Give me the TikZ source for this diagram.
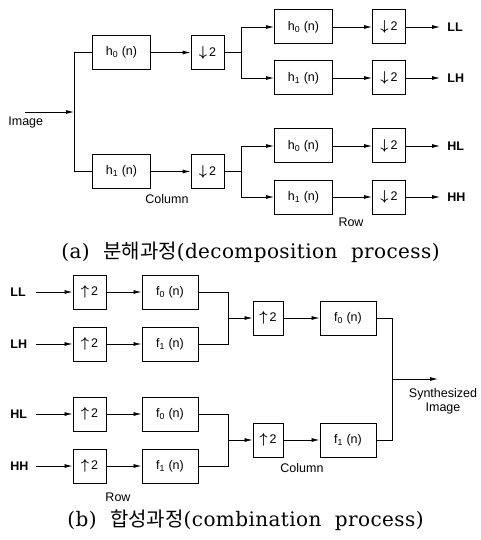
\documentclass[tikz,border=0pt]{standalone}
\usepackage{fontspec}
\setmainfont{Liberation Serif}
\setsansfont{Liberation Sans}
\newfontfamily\krfont{Noto Sans CJK KR}
\newfontfamily\captfont[LetterSpace=2]{DejaVu Serif}
\usetikzlibrary{arrows.meta}

\tikzset{
  filt/.style={draw,line width=1pt,minimum width=58pt,minimum height=34pt,inner sep=0pt},
  rate/.style={draw,line width=1pt,minimum width=33pt,minimum height=34pt,inner sep=0pt},
  band/.style={font=\sffamily\bfseries\fontsize{12.5}{14}\selectfont,text width=22pt,align=left},
  capt/.style={font=\captfont\fontsize{20}{22}\selectfont}
}
\newcommand{\dn}{{\fontsize{15}{15}\selectfont\boldmath$\downarrow$}\,2}
\newcommand{\up}{{\fontsize{15}{15}\selectfont\boldmath$\uparrow$}\,2}

\begin{document}
\begin{tikzpicture}[x=1pt,y=-1pt,>={Latex[length=8pt,width=4pt]},line width=0.8pt,
  font=\sffamily\fontsize{12.5}{14}\selectfont]
  \useasboundingbox (0,0) rectangle (481,540);
  % (a) decomposition: columns first
  \coordinate (img) at (25,112);
  \coordinate (sa) at (74,112);
  \node[anchor=north west,inner sep=0pt] (imglbl) at (8,117) {Image};
  \node[filt] (h0a) at (121.5,52.5) {h\textsubscript{0} (n)};
  \node[filt] (h1a) at (121.5,171.5) {h\textsubscript{1} (n)};
  \node[rate] (d0a) at (207.5,52.5) {\dn};
  \node[rate] (d1a) at (207.5,171.5) {\dn};
  \node (cola) at (167,199) {Column};
  \draw[->] (img) -- (sa);
  \draw (sa) |- (h0a);
  \draw (sa) |- (h1a);
  \draw[->] (h0a) -- (d0a);
  \draw[->] (h1a) -- (d1a);
  % then rows
  \coordinate (ja) at (241,52.5);
  \coordinate (jb) at (241,171.5);
  \node[filt] (h00) at (303.5,27) {h\textsubscript{0} (n)};
  \node[filt] (h01) at (303.5,78) {h\textsubscript{1} (n)};
  \node[filt] (h10) at (303.5,146) {h\textsubscript{0} (n)};
  \node[filt] (h11) at (303.5,197) {h\textsubscript{1} (n)};
  \node[rate] (d00) at (389,27) {\dn};
  \node[rate] (d01) at (389,78) {\dn};
  \node[rate] (d10) at (389,146) {\dn};
  \node[rate] (d11) at (389,197) {\dn};
  \node[band,anchor=west,inner xsep=7pt] (oLL) at (440,27) {LL};
  \node[band,anchor=west,inner xsep=7pt] (oLH) at (440,78) {LH};
  \node[band,anchor=west,inner xsep=7pt] (oHL) at (440,146) {HL};
  \node[band,anchor=west,inner xsep=7pt] (oHH) at (440,197) {HH};
  \node (rowa) at (351,222) {Row};
  \draw (d0a) -- (ja);
  \draw (d1a) -- (jb);
  \foreach \j/\a/\b in {ja/h00/h01,jb/h10/h11} {
    \draw[->] (\j) |- (\a);
    \draw[->] (\j) |- (\b);
  }
  \foreach \f/\d/\o in {h00/d00/oLL,h01/d01/oLH,h10/d10/oHL,h11/d11/oHH} {
    \draw[->] (\f) -- (\d);
    \draw[->] (\d) -- (\o);
  }
  \node[capt] (capa) at (250.5,252) {(a)\ \ {\krfont 분해과정}(decomposition\ \ process)};

  % (b) combination: rows first
  \node[band,anchor=west,inner xsep=3pt] (iLL) at (7,292) {LL};
  \node[band,anchor=west,inner xsep=3pt] (iLH) at (7,344) {LH};
  \node[band,anchor=west,inner xsep=3pt] (iHL) at (7,414) {HL};
  \node[band,anchor=west,inner xsep=3pt] (iHH) at (7,466) {HH};
  \node[rate] (u00) at (89.5,292) {\up};
  \node[rate] (u01) at (89.5,344) {\up};
  \node[rate] (u10) at (89.5,414) {\up};
  \node[rate] (u11) at (89.5,466) {\up};
  \node[filt,minimum width=56pt] (f00) at (170,292) {f\textsubscript{0} (n)};
  \node[filt,minimum width=56pt] (f01) at (170,344) {f\textsubscript{1} (n)};
  \node[filt,minimum width=56pt] (f10) at (170,414) {f\textsubscript{0} (n)};
  \node[filt,minimum width=56pt] (f11) at (170,466) {f\textsubscript{1} (n)};
  \node (rowb) at (118,497) {Row};
  \foreach \i/\u/\f in {iLL/u00/f00,iLH/u01/f01,iHL/u10/f10,iHH/u11/f11} {
    \draw[->] (\i) -- (\u);
    \draw[->] (\u) -- (\f);
  }
  % then columns
  \coordinate (ka) at (228,318);
  \coordinate (kb) at (228,440);
  \node[rate,minimum width=30pt] (u2a) at (268,318) {\up};
  \node[rate,minimum width=30pt] (u2b) at (268,440) {\up};
  \node[filt,minimum width=56pt] (f2a) at (348,318) {f\textsubscript{0} (n)};
  \node[filt,minimum width=56pt] (f2b) at (348,440) {f\textsubscript{1} (n)};
  \node (colb) at (302,468) {Column};
  \draw (f00) -| (ka);
  \draw (f01) -| (ka);
  \draw (f10) -| (kb);
  \draw (f11) -| (kb);
  \draw[->] (ka) -- (u2a);
  \draw[->] (kb) -- (u2b);
  \draw[->] (u2a) -- (f2a);
  \draw[->] (u2b) -- (f2b);
  \coordinate (kc) at (392,379);
  \coordinate (out) at (438,379);
  \draw (f2a) -| (kc);
  \draw (f2b) -| (kc);
  \draw[->] (kc) -- (out);
  \node[align=center,inner sep=0pt] (synth) at (443,401) {Synthesized\\Image};
  \node[capt] (capb) at (245.5,520) {(b)\ \ {\krfont 합성과정}(combination\ \ process)};
\end{tikzpicture}
\end{document}
